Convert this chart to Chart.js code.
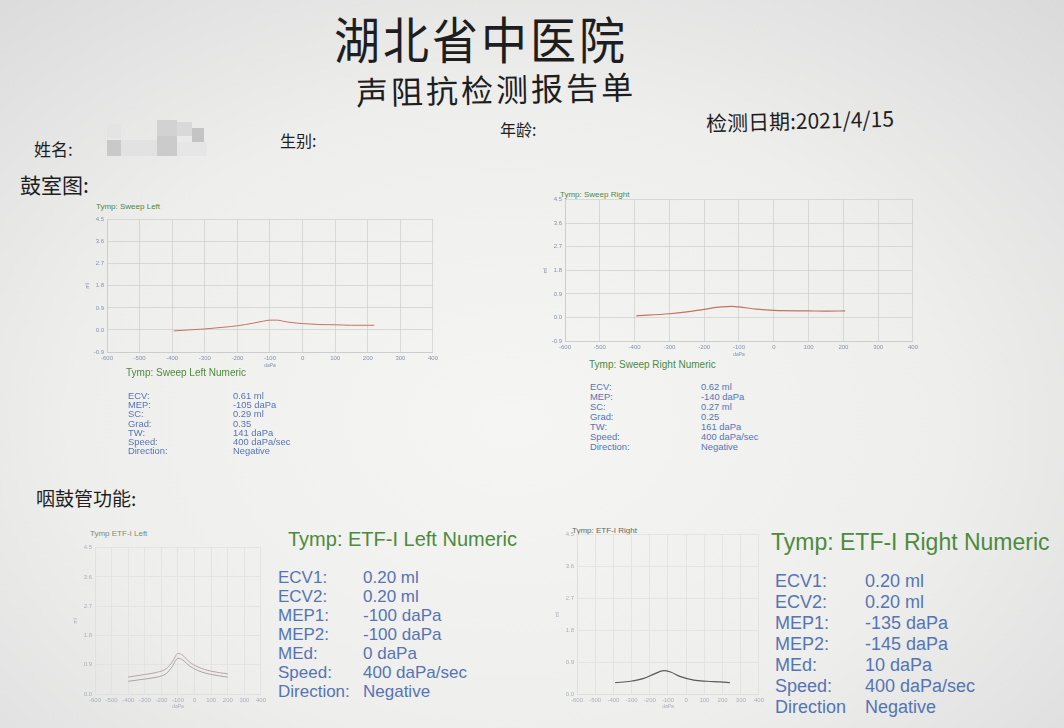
<!DOCTYPE html>
<html>
<head>
<meta charset="utf-8">
<script src="https://cdn.jsdelivr.net/npm/chart.js@4"></script>
<style>
  html, body { margin: 0; padding: 0; }
  body {
    width: 1064px; height: 728px; overflow: hidden; position: relative;
    background: radial-gradient(ellipse 75% 80% at 48% 58%, #f5f5f4 0%, #eeeeed 55%, #dadada 100%);
    font-family: "Liberation Sans", Arial, sans-serif;
  }
  .t { position: absolute; white-space: nowrap; line-height: 1; }
  .cn { font-family: "Noto Sans CJK SC", sans-serif; color: #1e1e1e; font-weight: 400; }
  .green { color: #4d8a3c; }
  .blue { color: #5674b4; }
  canvas { position: absolute; }
  .blur { position: absolute; }
</style>
</head>
<body>

<!-- header -->
<div class="t cn" style="left:334px;top:14px;font-size:46px;letter-spacing:3px;transform:scaleY(1.08);">湖北省中医院</div>
<div class="t cn" style="left:356px;top:72px;font-size:32px;letter-spacing:3px;transform:rotate(-1.2deg);">声阻抗检测报告单</div>
<div class="t cn" style="left:34px;top:140px;font-size:17px;">姓名:</div>
<div class="t cn" style="left:280px;top:132px;font-size:16px;">生别:</div>
<div class="t cn" style="left:500px;top:121px;font-size:16px;">年龄:</div>
<div class="t cn" style="left:706px;top:110px;font-size:21px;transform:rotate(-1.5deg);">检测日期:2021/4/15</div>
<div class="t cn" style="left:20px;top:174px;font-size:21px;">鼓室图:</div>
<div class="t cn" style="left:36px;top:488px;font-size:19px;">咽鼓管功能:</div>

<!-- blurred name -->
<div class="blur" style="left:107px;top:124px;width:14px;height:14px;background:#e4e4e4"></div>
<div class="blur" style="left:107px;top:140px;width:14px;height:16px;background:#c9c9c9"></div>
<div class="blur" style="left:121px;top:140px;width:36px;height:16px;background:#e2e2e2"></div>
<div class="blur" style="left:157px;top:120px;width:20px;height:16px;background:#d2d2d2"></div>
<div class="blur" style="left:157px;top:136px;width:20px;height:20px;background:#cbcbcb"></div>
<div class="blur" style="left:177px;top:122px;width:15px;height:14px;background:#d9d9d9"></div>
<div class="blur" style="left:192px;top:128px;width:12px;height:14px;background:#c4c4c4"></div>
<div class="blur" style="left:177px;top:142px;width:30px;height:14px;background:#e6e6e6"></div>

<!-- chart titles -->
<div class="t green" style="left:96px;top:203px;font-size:8px;">Tymp: Sweep Left</div>
<div class="t green" style="left:560px;top:191px;font-size:8px;">Tymp: Sweep Right</div>
<div class="t" style="left:90px;top:530px;font-size:8px;color:#7d8a78;">Tymp ETF-I Left</div>
<div class="t" style="left:572px;top:527px;font-size:8px;color:#5e6a58;">Tymp: ETF-I Right</div>

<canvas id="sweepLeft" width="357" height="156" style="left:84px;top:213px;"></canvas>
<canvas id="sweepRight" width="379" height="165" style="left:542px;top:193px;"></canvas>
<canvas id="etfLeft" width="197" height="169" style="left:72px;top:541px;"></canvas>
<canvas id="etfRight" width="213" height="182" style="left:554px;top:528px;"></canvas>

<div id="numeric"></div>

<script>
const pressureTicks = [-600, -500, -400, -300, -200, -100, 0, 100, 200, 300, 400];
const sweepVolumeTicks = [-0.9, 0.0, 0.9, 1.8, 2.7, 3.6, 4.5];
const etfVolumeTicks = [0.0, 0.9, 1.8, 2.7, 3.6, 4.5];

const sweepLeftPressure = [-395, -350, -300, -250, -200, -150, -120, -100, -80, -50, -20, 0, 50, 100, 150, 220];
const sweepLeftVolume = [-0.04, 0.0, 0.04, 0.1, 0.17, 0.28, 0.36, 0.4, 0.4, 0.33, 0.28, 0.26, 0.22, 0.21, 0.19, 0.19];

const sweepRightPressure = [-395, -300, -250, -200, -150, -120, -100, -50, 0, 100, 150, 205];
const sweepRightVolume = [0.06, 0.14, 0.21, 0.31, 0.4, 0.42, 0.4, 0.32, 0.27, 0.25, 0.24, 0.25];

const etfLeftPressure = [-400, -300, -225, -170, -135, -100, -70, -30, 20, 100, 200];
const etfLeftVolume1 = [0.52, 0.6, 0.67, 0.78, 0.98, 1.25, 1.18, 0.98, 0.83, 0.7, 0.62];
const etfLeftVolume2 = [0.39, 0.46, 0.52, 0.63, 0.84, 1.1, 1.04, 0.86, 0.72, 0.6, 0.52];

const etfRightPressure = [-390, -306, -233, -178, -123, -86, -31, 42, 116, 189, 240];
const etfRightVolume = [0.32, 0.36, 0.44, 0.56, 0.66, 0.62, 0.49, 0.39, 0.36, 0.34, 0.32];

const sweepLeftLabels = ['ECV:', 'MEP:', 'SC:', 'Grad:', 'TW:', 'Speed:', 'Direction:'];
const sweepLeftValues = ['0.61 ml', '-105 daPa', '0.29 ml', '0.35', '141 daPa', '400 daPa/sec', 'Negative'];
const sweepRightLabels = ['ECV:', 'MEP:', 'SC:', 'Grad:', 'TW:', 'Speed:', 'Direction:'];
const sweepRightValues = ['0.62 ml', '-140 daPa', '0.27 ml', '0.25', '161 daPa', '400 daPa/sec', 'Negative'];
const etfLeftLabels = ['ECV1:', 'ECV2:', 'MEP1:', 'MEP2:', 'MEd:', 'Speed:', 'Direction:'];
const etfLeftValues = ['0.20 ml', '0.20 ml', '-100 daPa', '-100 daPa', '0 daPa', '400 daPa/sec', 'Negative'];
const etfRightLabels = ['ECV1:', 'ECV2:', 'MEP1:', 'MEP2:', 'MEd:', 'Speed:', 'Direction'];
const etfRightValues = ['0.20 ml', '0.20 ml', '-135 daPa', '-145 daPa', '10 daPa', '400 daPa/sec', 'Negative'];

// ---- numeric blocks ----
function numericBlock(title, labels, values, o) {
  const box = document.getElementById('numeric');
  let html = `<div class="t green" style="left:${o.x}px;top:${o.y}px;font-size:${o.titleSize}px;">${title}</div>`;
  for (let i = 0; i < labels.length; i++) {
    const top = o.rowY + i * o.rowGap;
    html += `<div class="t blue" style="left:${o.x + o.labelDx}px;top:${top}px;font-size:${o.size}px;">${labels[i]}</div>`;
    html += `<div class="t blue" style="left:${o.x + o.valueDx}px;top:${top}px;font-size:${o.size}px;">${values[i]}</div>`;
  }
  box.insertAdjacentHTML('beforeend', html);
}
numericBlock('Tymp: Sweep Left Numeric', sweepLeftLabels, sweepLeftValues,
  { x: 126, y: 368, titleSize: 10, rowY: 391, rowGap: 9.2, size: 9.4, labelDx: 2, valueDx: 107 });
numericBlock('Tymp: Sweep Right Numeric', sweepRightLabels, sweepRightValues,
  { x: 589, y: 360, titleSize: 10, rowY: 382, rowGap: 10, size: 9.4, labelDx: 1, valueDx: 112 });
numericBlock('Tymp: ETF-I Left Numeric', etfLeftLabels, etfLeftValues,
  { x: 288, y: 529, titleSize: 20, rowY: 569, rowGap: 19, size: 17, labelDx: -10, valueDx: 75 });
numericBlock('Tymp: ETF-I Right Numeric', etfRightLabels, etfRightValues,
  { x: 771, y: 531, titleSize: 23, rowY: 572, rowGap: 21, size: 18, labelDx: 4, valueDx: 94 });

// ---- charts ----
function points(xs, ys) {
  return xs.map((x, i) => ({ x: x, y: ys[i] }));
}

function makeChart(id, datasets, yTicks, yMin, gridColor, tickColor, yWidth, xHeight) {
  new Chart(document.getElementById(id), {
    type: 'line',
    data: { datasets: datasets },
    options: {
      responsive: false,
      animation: false,
      layout: { padding: { top: 4, right: 6 } },
      plugins: { legend: { display: false }, tooltip: { enabled: false } },
      elements: { point: { radius: 0 }, line: { cubicInterpolationMode: 'monotone' } },
      scales: {
        x: {
          type: 'linear', min: -600, max: 400,
          afterBuildTicks: s => { s.ticks = pressureTicks.map(v => ({ value: v })); },
          afterFit: s => { s.height = xHeight; },
          grid: { color: gridColor, lineWidth: 0.7, drawTicks: false },
          border: { color: gridColor },
          ticks: { color: tickColor, font: { size: 6 }, padding: 3, maxRotation: 0, autoSkip: false },
          title: { display: true, text: 'daPa', color: tickColor, font: { size: 5 }, padding: 0 }
        },
        y: {
          min: yMin, max: 4.5,
          afterBuildTicks: s => { s.ticks = yTicks.map(v => ({ value: v })); },
          afterFit: s => { s.width = yWidth; },
          grid: { color: gridColor, lineWidth: 0.7, drawTicks: false },
          border: { color: gridColor },
          ticks: { color: tickColor, font: { size: 6 }, padding: 3, callback: v => v.toFixed(1) },
          title: { display: true, text: 'ml', color: tickColor, font: { size: 5 }, padding: 1 }
        }
      }
    }
  });
}

makeChart('sweepLeft', [
  { data: points(sweepLeftPressure, sweepLeftVolume), borderColor: '#c3735f', borderWidth: 1 }
], sweepVolumeTicks, -0.9, '#cdcdcd', '#8393ad', 23, 17);

makeChart('sweepRight', [
  { data: points(sweepRightPressure, sweepRightVolume), borderColor: '#c3735f', borderWidth: 1.2 }
], sweepVolumeTicks, -0.9, '#cdcdcd', '#8393ad', 23, 17);

makeChart('etfLeft', [
  { data: points(etfLeftPressure, etfLeftVolume1), borderColor: '#b9a3a6', borderWidth: 1 },
  { data: points(etfLeftPressure, etfLeftVolume2), borderColor: '#a9a2ab', borderWidth: 1 }
], etfVolumeTicks, 0, '#e0e0e0', '#a8b0bc', 23, 16);

makeChart('etfRight', [
  { data: points(etfRightPressure, etfRightVolume), borderColor: '#5a5a5a', borderWidth: 1.2 }
], etfVolumeTicks, 0, '#dedede', '#a8b0bc', 23, 16);
</script>
</body>
</html>
